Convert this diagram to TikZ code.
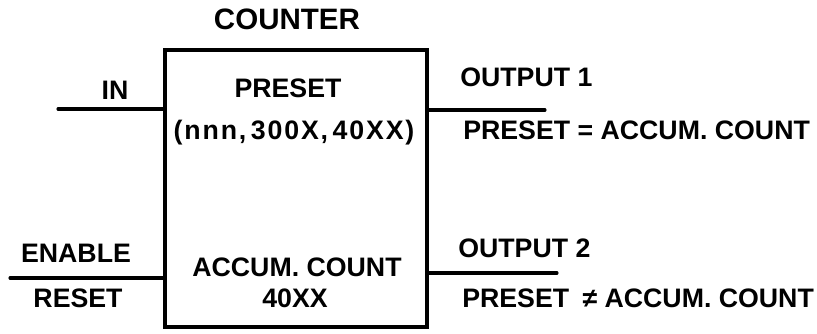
\documentclass[tikz,border=0pt]{standalone}
\usepackage{fontspec}
\setmainfont{Liberation Sans}
\usepackage{tikz}
\usetikzlibrary{positioning, calc}
\tikzset{
	wire/.style={line width=2.2pt, line cap=round}
}
\tikzset{
	blocklabel/.style={inner sep=0pt, font=\fontsize{19}{22}\selectfont\bfseries}
}
\tikzset{
	titlelabel/.style={inner sep=0pt, font=\fontsize{21}{25}\selectfont\bfseries}
}

\begin{document}
\begin{tikzpicture}[x=0.025cm, y=-0.025cm]

			\useasboundingbox (0,0) rectangle (817,334);

			\begin{scope}
				\node[draw, line width=2.2pt, outer sep=0pt, minimum width=6.55cm,
					minimum height=6.925cm] (cBox) at (296,188.5) {};
				\node[titlelabel, anchor=base] (tCounter) at (287,30) {COUNTER};
				\node[blocklabel, anchor=base] (tPreset) at (288,98) {PRESET};
				\node[blocklabel, anchor=base] (tAddr) at (294,140)
					{\addfontfeatures{LetterSpace=7}(nnn,\,300X,\,40XX)};
				\node[blocklabel, anchor=base] (tAccum) at (297,277) {ACCUM. COUNT};
				\node[blocklabel, anchor=base] (tAccAddr) at (295,308) {40XX};
			\end{scope}

			\begin{scope}
				\coordinate (inL) at (58,109);
				\coordinate (enL) at (10,278);
				\coordinate (oneR) at (545,110);
				\coordinate (twoR) at (557,273);

				\draw[wire] (inL) -- (inL -| cBox.west);
				\draw[wire] (enL) -- (enL -| cBox.west);
				\draw[wire] (oneR -| cBox.east) -- (oneR);
				\draw[wire] (twoR -| cBox.east) -- (twoR);
			\end{scope}

			\node[blocklabel, anchor=base] (tIn) at (115,100) {IN};
			\node[blocklabel, anchor=base] (tEnable) at (76,263) {ENABLE};
			\node[blocklabel, anchor=base] (tReset) at (78,308) {RESET};

			\node[blocklabel, anchor=base west] (tOutOne) at (460,87) {OUTPUT 1};
			\node[blocklabel, anchor=base west] (tEqual) at (463,140) {PRESET = ACCUM. COUNT};
			\node[blocklabel, anchor=base west] (tOutTwo) at (458,258) {OUTPUT 2};
			\node[blocklabel, anchor=base west] (tNotEq) at (462,308) {PRESET\enspace≠ ACCUM. COUNT};

		\end{tikzpicture}
\end{document}
